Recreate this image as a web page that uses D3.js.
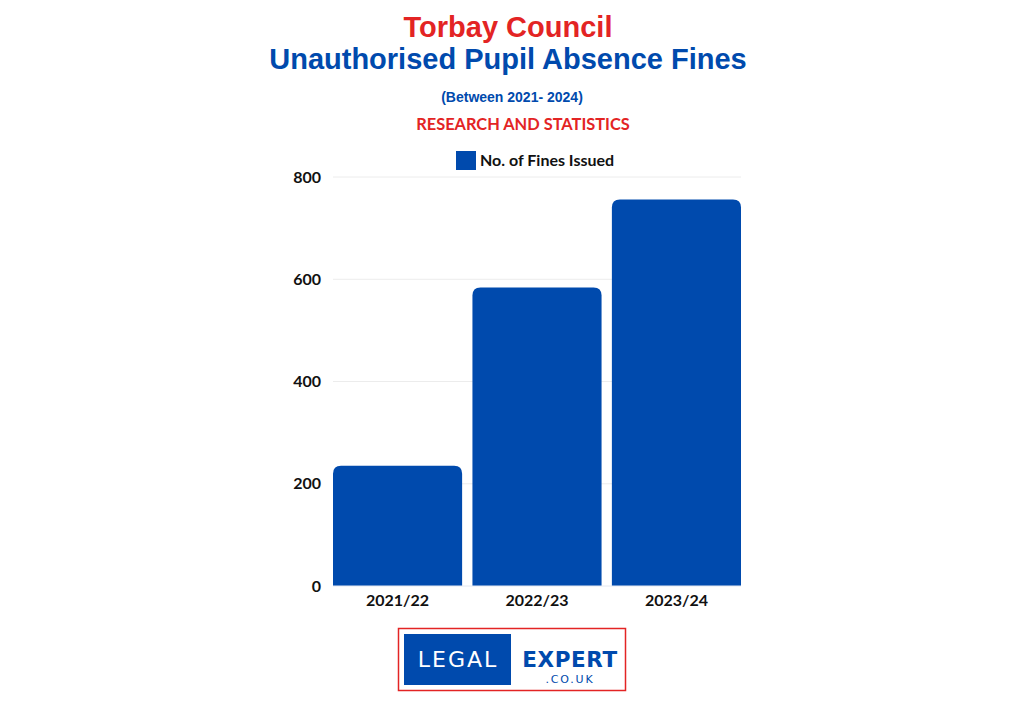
<!DOCTYPE html>
<html><head><meta charset="utf-8">
<script src="https://cdn.jsdelivr.net/npm/d3@7"></script>
<style>body{margin:0;background:#fff}</style>
</head><body>
<svg id="chart" width="1024" height="717"></svg>
<script>
const categories = ["2021/22", "2022/23", "2023/24"];
const fines = [235, 584, 756];
const yTicks = [0, 200, 400, 600, 800];
const seriesName = "No. of Fines Issued";

(function () {
const svg = d3.select("#chart");
const blue = "#004aad", red = "#e32424";
const pLeft = 333, pRight = 741, pTop = 177, pBottom = 586;

const x = d3.scaleBand().domain(categories).range([pLeft, pRight]).paddingInner(0.074).paddingOuter(0);
const y = d3.scaleLinear().domain([0, 800]).range([pBottom, pTop]);

// titles
svg.append("text").attr("x", 508).attr("y", 37).attr("text-anchor", "middle")
  .attr("font-family", "Liberation Sans, Arial, sans-serif").attr("font-weight", "bold")
  .attr("font-size", 29).attr("fill", red).text("Torbay Council");
svg.append("text").attr("x", 508).attr("y", 69).attr("text-anchor", "middle")
  .attr("font-family", "Liberation Sans, Arial, sans-serif").attr("font-weight", "bold")
  .attr("font-size", 29).attr("fill", blue).text("Unauthorised Pupil Absence Fines");
svg.append("text").attr("x", 512).attr("y", 102).attr("text-anchor", "middle")
  .attr("font-family", "Liberation Sans, Arial, sans-serif").attr("font-weight", "bold")
  .attr("font-size", 14).attr("fill", blue).text("(Between 2021- 2024)");
svg.append("text").attr("x", 523).attr("y", 130).attr("text-anchor", "middle")
  .attr("font-family", "Lato, sans-serif").attr("font-weight", "bold")
  .attr("font-size", 16.4).attr("fill", red).text("RESEARCH AND STATISTICS");

// legend
svg.append("rect").attr("x", 456).attr("y", 151).attr("width", 20).attr("height", 19).attr("fill", blue);
svg.append("text").attr("x", 480).attr("y", 166)
  .attr("font-family", "Lato, sans-serif").attr("font-weight", "bold")
  .attr("font-size", 16).attr("fill", "#111").text(seriesName);

// grid
svg.append("g").selectAll("line").data(yTicks.filter(d => d > 0)).join("line")
  .attr("x1", pLeft).attr("x2", pRight).attr("y1", d => y(d)).attr("y2", d => y(d))
  .attr("stroke", "#ececec").attr("stroke-width", 1);

// y axis
const yAxis = svg.append("g").attr("transform", `translate(${pLeft},0)`)
  .call(d3.axisLeft(y).tickValues(yTicks).tickSize(0).tickPadding(12));
yAxis.select(".domain").remove();
yAxis.selectAll("text").attr("font-family", "Lato, sans-serif").attr("font-weight", "bold")
  .attr("font-size", 16).attr("fill", "#111");

// bars with rounded top corners
const r = 8;
svg.append("g").selectAll("path").data(categories).join("path")
  .attr("fill", blue)
  .attr("d", (c, i) => {
    const x0 = x(c), w = x.bandwidth(), y0 = y(fines[i]), yb = y(0);
    return `M${x0},${yb}V${y0 + r}Q${x0},${y0} ${x0 + r},${y0}H${x0 + w - r}Q${x0 + w},${y0} ${x0 + w},${y0 + r}V${yb}Z`;
  });

// baseline
svg.append("line").attr("x1", pLeft).attr("x2", pRight).attr("y1", y(0)).attr("y2", y(0))
  .attr("stroke", "#e4e8f0").attr("stroke-width", 1);

// x axis
const xAxis = svg.append("g").attr("transform", `translate(0,${pBottom})`)
  .call(d3.axisBottom(x).tickSize(0).tickPadding(9));
xAxis.select(".domain").remove();
xAxis.selectAll("text").attr("font-family", "Lato, sans-serif").attr("font-weight", "bold")
  .attr("font-size", 16).attr("fill", "#111");

// logo
const logo = svg.append("g");
logo.append("rect").attr("x", 398.5).attr("y", 628.5).attr("width", 227).attr("height", 62)
  .attr("fill", "#fff").attr("stroke", red).attr("stroke-width", 1.5);
logo.append("rect").attr("x", 404).attr("y", 634).attr("width", 107).attr("height", 51).attr("fill", blue);
logo.append("text").attr("x", 458).attr("y", 667).attr("text-anchor", "middle")
  .attr("font-family", "DejaVu Sans, sans-serif").attr("font-weight", "normal")
  .attr("font-size", 22).attr("letter-spacing", 2).attr("fill", "#fff").text("LEGAL");
logo.append("text").attr("x", 570).attr("y", 667).attr("text-anchor", "middle")
  .attr("font-family", "DejaVu Sans, sans-serif").attr("font-weight", "bold")
  .attr("font-size", 21.5).attr("letter-spacing", 0.6).attr("fill", blue).text("EXPERT");
logo.append("text").attr("x", 570).attr("y", 683).attr("text-anchor", "middle")
  .attr("font-family", "DejaVu Sans, sans-serif")
  .attr("font-size", 11).attr("letter-spacing", 1.8).attr("fill", blue).text(".CO.UK");
})();
</script>
</body></html>
